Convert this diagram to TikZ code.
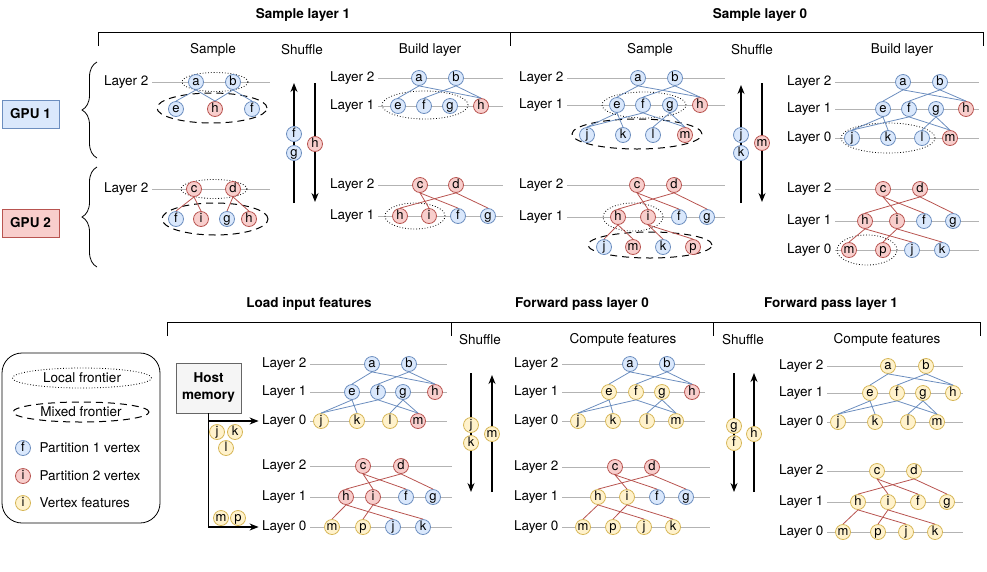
\documentclass[tikz,border=0pt]{standalone}
\usepackage{fontspec}
\setmainfont{TeX Gyre Heros}
\usepackage{tikz}
\usetikzlibrary{arrows.meta,shapes.geometric,decorations.pathreplacing}

\definecolor{bfill}{HTML}{DAE8FC}
\definecolor{bline}{HTML}{6C8EBF}
\definecolor{rfill}{HTML}{F8CECC}
\definecolor{rline}{HTML}{B85450}
\definecolor{yfill}{HTML}{FFF2CC}
\definecolor{yline}{HTML}{D6B656}
\definecolor{hfill}{HTML}{F5F5F5}
\definecolor{hline}{HTML}{666666}
\definecolor{lgray}{HTML}{B3B3B3}

\begin{document}
\begin{tikzpicture}[x=1pt,y=-1pt,
        every node/.style={font=\fontsize{13.5}{15}\selectfont},
        main node/.style={circle,draw,inner sep=-1pt,minimum size=15pt,text height=8.5pt,text depth=2pt,line width=0.8pt,font=\fontsize{13}{14}\selectfont},
        blue node/.style={main node,fill=bfill,draw=bline},
        red node/.style={main node,fill=rfill,draw=rline},
        yellow node/.style={main node,fill=yfill,draw=yline},
        layer label/.style={anchor=east},
        layer line/.style={draw=lgray,line width=1pt},
        blue edges/.style={every edge/.style={draw=bline,line width=0.8pt}},
        red edges/.style={every edge/.style={draw=rline,line width=0.8pt}},
        local frontier/.style={draw=black,dotted,line width=0.8pt},
        mixed frontier/.style={draw=black,dash pattern=on 7pt off 5pt,line width=1pt},
        shuffle/.style={-{Stealth[length=9pt,width=7pt]},line width=1.2pt},
        title/.style={font=\bfseries\fontsize{13.5}{15}\selectfont}]

    \useasboundingbox (0,0) rectangle (987,571);

    % headers, sampling
    \node[title] (sl1) at (303,15) {Sample layer 1};
    \node[title] (sl0) at (760,15) {Sample layer 0};
    \draw[line width=0.8pt] (98,46) -- (98,32) -- (983,32) -- (983,46) (510,32) -- (510,46);
    \node (sub1) at (213,50) {Sample};
    \node (sub2) at (302,50) {Shuffle};
    \node (sub3) at (430,50) {Build layer};
    \node (sub4) at (650,50) {Sample};
    \node (sub5) at (752,50) {Shuffle};
    \node (sub6) at (902,50) {Build layer};

    % gpus
    \node[title,draw=bline,fill=bfill,minimum width=57pt,minimum height=28pt,line width=0.8pt] (gpu1) at (30.5,114) {GPU 1};
    \node[title,draw=rline,fill=rfill,minimum width=57pt,minimum height=28pt,line width=0.8pt] (gpu2) at (30.5,223) {GPU 2};
    \draw[decorate,decoration={brace,amplitude=15pt},line width=0.8pt] (97,158) -- (97,62);
    \draw[decorate,decoration={brace,amplitude=15pt},line width=0.8pt] (97,267) -- (97,167);

    % sample layer 1, sample
    \node[layer label] (A2) at (152,82) {Layer 2};
    \draw[layer line] (A2.east) -- ++(118,0);
    \draw[local frontier] (215,82) ellipse [x radius=33pt, y radius=9.5pt];
    \draw[mixed frontier] (212,108) ellipse [x radius=55pt, y radius=15pt];
    \node[blue node] (A-a) at (196,82) {a};
    \node[blue node] (A-b) at (233,82) {b};
    \node[blue node] (A-e) at (176,109) {e};
    \node[red node] (A-h) at (215,109) {h};
    \node[blue node] (A-f) at (252,109) {f};
    \path[blue edges] (A-a.south) edge (A-e.north) (A-a.south) edge (A-h.north)
        (A-b.south) edge (A-h.north) (A-b.south) edge (A-f.north);

    \node[layer label] (B2) at (152,189) {Layer 2};
    \draw[layer line] (B2.east) -- ++(118,0);
    \draw[local frontier] (214,189) ellipse [x radius=33pt, y radius=9.5pt];
    \draw[mixed frontier] (215,219) ellipse [x radius=53pt, y radius=16pt];
    \node[red node] (B-c) at (194,189) {c};
    \node[red node] (B-d) at (233,189) {d};
    \node[blue node] (B-f) at (176,219) {f};
    \node[red node] (B-i) at (201,219) {i};
    \node[blue node] (B-g) at (227,219) {g};
    \node[red node] (B-h) at (249,219) {h};
    \path[red edges] (B-c.south) edge (B-f.north) (B-c.south) edge (B-i.north)
        (B-d.south) edge (B-g.north) (B-d.south) edge (B-h.north);

    % shuffle
    \coordinate (s1a) at (294,203); \coordinate (s1b) at (294,83);
    \coordinate (s1c) at (315,83); \coordinate (s1d) at (315,202);
    \draw[shuffle] (s1a) -- (s1b);
    \draw[shuffle] (s1c) -- (s1d);
    \node[blue node] (S1-f) at (294,134) {f};
    \node[blue node] (S1-g) at (294,153) {g};
    \node[red node] (S1-h) at (315,144) {h};

    % sample layer 1, build layer
    \node[layer label] (C2) at (378,78) {Layer 2};
    \node[layer label] (C1) at (378,106) {Layer 1};
    \draw[layer line] (C2.east) -- ++(125,0);
    \draw[layer line] (C1.east) -- ++(125,0);
    \draw[local frontier] (425,105) ellipse [x radius=43pt, y radius=14pt];
    \node[blue node] (C-a) at (419,78) {a};
    \node[blue node] (C-b) at (456,78) {b};
    \node[blue node] (C-e) at (398,106) {e};
    \node[blue node] (C-f) at (424,106) {f};
    \node[blue node] (C-g) at (450,106) {g};
    \node[red node] (C-h) at (481,106) {h};
    \path[blue edges] (C-a.south) edge (C-e.north) (C-a.south) edge (C-h.north)
        (C-b.south) edge (C-f.north) (C-b.south) edge (C-h.north);

    \node[layer label] (D2) at (378,185) {Layer 2};
    \node[layer label] (D1) at (378,216) {Layer 1};
    \draw[layer line] (D2.east) -- ++(125,0);
    \draw[layer line] (D1.east) -- ++(125,0);
    \draw[local frontier] (415,216) ellipse [x radius=30pt, y radius=13pt];
    \node[red node] (D-c) at (420,185) {c};
    \node[red node] (D-d) at (456,185) {d};
    \node[red node] (D-h) at (400,216) {h};
    \node[red node] (D-i) at (429,216) {i};
    \node[blue node] (D-f) at (458,216) {f};
    \node[blue node] (D-g) at (488,216) {g};
    \path[red edges] (D-c.south) edge (D-i.north) (D-c.south) edge (D-f.north)
        (D-d.south) edge (D-h.north) (D-d.south) edge (D-g.north);

    % sample layer 0, sample
    \node[layer label] (E2) at (567,78) {Layer 2};
    \node[layer label] (E1) at (567,105) {Layer 1};
    \draw[layer line] (E2.east) -- ++(158,0);
    \draw[layer line] (E1.east) -- ++(158,0);
    \draw[local frontier] (644,105) ellipse [x radius=42pt, y radius=13pt];
    \draw[mixed frontier] (637,134) ellipse [x radius=65pt, y radius=15pt];
    \node[blue node] (E-a) at (638,78) {a};
    \node[blue node] (E-b) at (675,78) {b};
    \node[blue node] (E-e) at (617,105) {e};
    \node[blue node] (E-f) at (643,105) {f};
    \node[blue node] (E-g) at (670,105) {g};
    \node[red node] (E-h) at (700,105) {h};
    \node[blue node] (E-j) at (587,135) {j};
    \node[blue node] (E-k) at (623,135) {k};
    \node[blue node] (E-l) at (653,135) {l};
    \node[red node] (E-m) at (685,135) {m};
    \path[blue edges] (E-a.south) edge (E-e.north) (E-a.south) edge (E-h.north)
        (E-b.south) edge (E-f.north) (E-b.south) edge (E-h.north)
        (E-e.south) edge (E-j.north) (E-e.south) edge (E-k.north)
        (E-f.south) edge (E-j.north) (E-f.south) edge (E-m.north)
        (E-g.south) edge (E-l.north) (E-g.south) edge (E-m.north);

    \node[layer label] (F2) at (567,185) {Layer 2};
    \node[layer label] (F1) at (567,217) {Layer 1};
    \draw[layer line] (F2.east) -- ++(158,0);
    \draw[layer line] (F1.east) -- ++(158,0);
    \draw[local frontier] (633,217) ellipse [x radius=30pt, y radius=14pt];
    \draw[mixed frontier] (650,245) ellipse [x radius=62pt, y radius=13pt];
    \node[red node] (F-c) at (637,185) {c};
    \node[red node] (F-d) at (674,185) {d};
    \node[red node] (F-h) at (618,217) {h};
    \node[red node] (F-i) at (648,217) {i};
    \node[blue node] (F-f) at (679,217) {f};
    \node[blue node] (F-g) at (707,217) {g};
    \node[blue node] (F-j) at (604,247) {j};
    \node[red node] (F-m) at (633,247) {m};
    \node[blue node] (F-k) at (663,247) {k};
    \node[red node] (F-p) at (693,247) {p};
    \path[red edges] (F-c.south) edge (F-i.north) (F-c.south) edge (F-f.north)
        (F-d.south) edge (F-h.north) (F-d.south) edge (F-g.north)
        (F-h.south) edge (F-j.north) (F-h.south) edge (F-m.north)
        (F-i.south) edge (F-k.north) (F-i.south) edge (F-p.north);

    % shuffle
    \coordinate (s2a) at (741,203); \coordinate (s2b) at (741,85);
    \coordinate (s2c) at (762,83); \coordinate (s2d) at (762,202);
    \draw[shuffle] (s2a) -- (s2b);
    \draw[shuffle] (s2c) -- (s2d);
    \node[blue node] (S2-j) at (741,135) {j};
    \node[blue node] (S2-k) at (741,153) {k};
    \node[red node] (S2-m) at (762,143) {m};

    % sample layer 0, build layer
    \node[layer label] (G2) at (835,82) {Layer 2};
    \node[layer label] (G1) at (835,109) {Layer 1};
    \node[layer label] (G0) at (835,138) {Layer 0};
    \draw[layer line] (G2.east) -- ++(144,0);
    \draw[layer line] (G1.east) -- ++(144,0);
    \draw[layer line] (G0.east) -- ++(144,0);
    \draw[local frontier] (888,138) ellipse [x radius=47pt, y radius=15pt];
    \node[blue node] (G-a) at (903,82) {a};
    \node[blue node] (G-b) at (940,82) {b};
    \node[blue node] (G-e) at (883,109) {e};
    \node[blue node] (G-f) at (909,109) {f};
    \node[blue node] (G-g) at (936,109) {g};
    \node[red node] (G-h) at (966,109) {h};
    \node[blue node] (G-j) at (852,138) {j};
    \node[blue node] (G-k) at (888,138) {k};
    \node[blue node] (G-l) at (922,138) {l};
    \node[red node] (G-m) at (950,138) {m};
    \path[blue edges] (G-a.south) edge (G-e.north) (G-a.south) edge (G-h.north)
        (G-b.south) edge (G-f.north) (G-b.south) edge (G-h.north)
        (G-e.south) edge (G-j.north) (G-e.south) edge (G-k.north)
        (G-f.south) edge (G-j.north) (G-f.south) edge (G-m.north)
        (G-g.south) edge (G-l.north) (G-g.south) edge (G-m.north);

    \node[layer label] (H2) at (835,189) {Layer 2};
    \node[layer label] (H1) at (835,221) {Layer 1};
    \node[layer label] (H0) at (835,250) {Layer 0};
    \draw[layer line] (H2.east) -- ++(144,0);
    \draw[layer line] (H1.east) -- ++(144,0);
    \draw[layer line] (H0.east) -- ++(144,0);
    \draw[local frontier] (867,250) ellipse [x radius=30pt, y radius=15pt];
    \node[red node] (H-c) at (883,189) {c};
    \node[red node] (H-d) at (920,189) {d};
    \node[red node] (H-h) at (865,221) {h};
    \node[red node] (H-i) at (897,221) {i};
    \node[blue node] (H-f) at (924,221) {f};
    \node[blue node] (H-g) at (953,221) {g};
    \node[red node] (H-m) at (849,250) {m};
    \node[red node] (H-p) at (883,250) {p};
    \node[blue node] (H-j) at (912,250) {j};
    \node[blue node] (H-k) at (942,250) {k};
    \path[red edges] (H-c.south) edge (H-i.north) (H-c.south) edge (H-f.north)
        (H-d.south) edge (H-h.north) (H-d.south) edge (H-g.north)
        (H-h.south) edge (H-m.north) (H-h.south) edge (H-j.north)
        (H-i.south) edge (H-p.north) (H-i.south) edge (H-k.north);

    % headers, forward pass
    \node[title] (lif) at (309,304) {Load input features};
    \node[title] (fp0) at (582,304) {Forward pass layer 0};
    \node[title] (fp1) at (831,304) {Forward pass layer 1};
    \draw[line width=0.8pt] (167,336) -- (167,322) -- (980,322) -- (980,336)
        (451,322) -- (451,336) (713,322) -- (713,336);
    \node (sub7) at (480,340) {Shuffle};
    \node (sub8) at (623,340) {Compute features};
    \node (sub9) at (743,340) {Shuffle};
    \node (sub10) at (887,340) {Compute features};

    % legend
    \node[draw,rounded corners=20pt,minimum width=158pt,minimum height=170pt,line width=0.8pt] (legend) at (81,438) {};
    \node[local frontier,ellipse,minimum width=139pt,minimum height=20pt,inner sep=0pt] (leg-loc) at (82,378) {Local frontier};
    \node[mixed frontier,ellipse,minimum width=136pt,minimum height=20pt,inner sep=0pt] (leg-mix) at (81,412) {Mixed frontier};
    \node[blue node] (leg-b) at (23,448) {f};
    \node[red node] (leg-r) at (23,476) {i};
    \node[yellow node] (leg-y) at (23,503) {i};
    \node[anchor=west] (leg-bt) at (36,448) {Partition 1 vertex};
    \node[anchor=west] (leg-rt) at (36,476) {Partition 2 vertex};
    \node[anchor=west] (leg-yt) at (36,503) {Vertex features};

    % load input features
    \node[title,draw=hline,fill=hfill,minimum width=65pt,minimum height=50pt,align=center,line width=0.8pt,font=\bfseries\fontsize{13.5}{17}\selectfont] (host) at (208.5,388) {Host\\memory};

    \node[layer label] (I2) at (310,364) {Layer 2};
    \node[layer label] (I1) at (310,392) {Layer 1};
    \node[layer label] (I0) at (310,421) {Layer 0};
    \draw[layer line] (I2.east) -- ++(137,0);
    \draw[layer line] (I1.east) -- ++(137,0);
    \draw[layer line] (I0.east) -- ++(137,0);
    \node[blue node] (I-a) at (372,364) {a};
    \node[blue node] (I-b) at (409,364) {b};
    \node[blue node] (I-e) at (352,392) {e};
    \node[blue node] (I-f) at (378,392) {f};
    \node[blue node] (I-g) at (403,392) {g};
    \node[red node] (I-h) at (435,392) {h};
    \node[yellow node] (I-j) at (321,421) {j};
    \node[yellow node] (I-k) at (357,421) {k};
    \node[yellow node] (I-l) at (390,421) {l};
    \node[red node] (I-m) at (418,421) {m};
    \path[blue edges] (I-a.south) edge (I-e.north) (I-a.south) edge (I-h.north)
        (I-b.south) edge (I-f.north) (I-b.south) edge (I-h.north)
        (I-e.south) edge (I-j.north) (I-e.south) edge (I-k.north)
        (I-f.south) edge (I-j.north) (I-f.south) edge (I-m.north)
        (I-g.south) edge (I-l.north) (I-g.south) edge (I-m.north);

    \node[layer label] (J2) at (310,466) {Layer 2};
    \node[layer label] (J1) at (310,497) {Layer 1};
    \node[layer label] (J0) at (310,527) {Layer 0};
    \draw[layer line] (J2.east) -- ++(142,0);
    \draw[layer line] (J1.east) -- ++(142,0);
    \draw[layer line] (J0.east) -- ++(142,0);
    \node[red node] (J-c) at (363,466) {c};
    \node[red node] (J-d) at (401,466) {d};
    \node[red node] (J-h) at (346,497) {h};
    \node[red node] (J-i) at (373,497) {i};
    \node[blue node] (J-f) at (406,497) {f};
    \node[blue node] (J-g) at (433,497) {g};
    \node[yellow node] (J-m) at (332,527) {m};
    \node[yellow node] (J-p) at (363,527) {p};
    \node[blue node] (J-j) at (393,527) {j};
    \node[blue node] (J-k) at (423,527) {k};
    \path[red edges] (J-c.south) edge (J-i.north) (J-c.south) edge (J-f.north)
        (J-d.south) edge (J-h.north) (J-d.south) edge (J-g.north)
        (J-h.south) edge (J-m.north) (J-h.south) edge (J-j.north)
        (J-i.south) edge (J-p.north) (J-i.south) edge (J-k.north);

    \draw[shuffle] (host.south) |- (I0.west);
    \draw[shuffle] (host.south) |- (J0.west);
    \node[yellow node] (Y-j) at (217,432) {j};
    \node[yellow node] (Y-k) at (235,432) {k};
    \node[yellow node] (Y-l) at (226,448) {l};
    \node[yellow node] (Y-m) at (221,518) {m};
    \node[yellow node] (Y-p) at (238,518) {p};

    % shuffle
    \coordinate (s3a) at (471,373); \coordinate (s3b) at (471,492);
    \coordinate (s3c) at (492,492); \coordinate (s3d) at (492,375);
    \draw[shuffle] (s3a) -- (s3b);
    \draw[shuffle] (s3c) -- (s3d);
    \node[yellow node] (S3-j) at (471,425) {j};
    \node[yellow node] (S3-k) at (471,443) {k};
    \node[yellow node] (S3-m) at (492,434) {m};

    % forward pass layer 0
    \node[layer label] (K2) at (562,364) {Layer 2};
    \node[layer label] (K1) at (562,392) {Layer 1};
    \node[layer label] (K0) at (562,421) {Layer 0};
    \draw[layer line] (K2.east) -- ++(143,0);
    \draw[layer line] (K1.east) -- ++(143,0);
    \draw[layer line] (K0.east) -- ++(143,0);
    \node[blue node] (K-a) at (630,364) {a};
    \node[blue node] (K-b) at (667,364) {b};
    \node[yellow node] (K-e) at (609,392) {e};
    \node[yellow node] (K-f) at (636,392) {f};
    \node[yellow node] (K-g) at (662,392) {g};
    \node[red node] (K-h) at (692,392) {h};
    \node[yellow node] (K-j) at (578,421) {j};
    \node[yellow node] (K-k) at (613,421) {k};
    \node[yellow node] (K-l) at (647,421) {l};
    \node[yellow node] (K-m) at (676,421) {m};
    \path[blue edges] (K-a.south) edge (K-e.north) (K-a.south) edge (K-h.north)
        (K-b.south) edge (K-f.north) (K-b.south) edge (K-h.north)
        (K-e.south) edge (K-j.north) (K-e.south) edge (K-k.north)
        (K-f.south) edge (K-j.north) (K-f.south) edge (K-m.north)
        (K-g.south) edge (K-l.north) (K-g.south) edge (K-m.north);

    \node[layer label] (L2) at (562,467) {Layer 2};
    \node[layer label] (L1) at (562,497) {Layer 1};
    \node[layer label] (L0) at (562,527) {Layer 0};
    \draw[layer line] (L2.east) -- ++(148,0);
    \draw[layer line] (L1.east) -- ++(148,0);
    \draw[layer line] (L0.east) -- ++(148,0);
    \node[red node] (L-c) at (615,467) {c};
    \node[red node] (L-d) at (652,467) {d};
    \node[yellow node] (L-h) at (598,497) {h};
    \node[yellow node] (L-i) at (627,497) {i};
    \node[blue node] (L-f) at (657,497) {f};
    \node[blue node] (L-g) at (686,497) {g};
    \node[yellow node] (L-m) at (583,527) {m};
    \node[yellow node] (L-p) at (613,527) {p};
    \node[yellow node] (L-j) at (644,527) {j};
    \node[yellow node] (L-k) at (673,527) {k};
    \path[red edges] (L-c.south) edge (L-i.north) (L-c.south) edge (L-f.north)
        (L-d.south) edge (L-h.north) (L-d.south) edge (L-g.north)
        (L-h.south) edge (L-m.north) (L-h.south) edge (L-j.north)
        (L-i.south) edge (L-p.north) (L-i.south) edge (L-k.north);

    % shuffle
    \coordinate (s4a) at (734,373); \coordinate (s4b) at (734,492);
    \coordinate (s4c) at (754,492); \coordinate (s4d) at (754,373);
    \draw[shuffle] (s4a) -- (s4b);
    \draw[shuffle] (s4c) -- (s4d);
    \node[yellow node] (S4-g) at (734,426) {g};
    \node[yellow node] (S4-f) at (734,443) {f};
    \node[yellow node] (S4-h) at (754,434) {h};

    % forward pass layer 1
    \node[layer label] (M2) at (827,366) {Layer 2};
    \node[layer label] (M1) at (827,393) {Layer 1};
    \node[layer label] (M0) at (827,422) {Layer 0};
    \draw[layer line] (M2.east) -- ++(136,0);
    \draw[layer line] (M1.east) -- ++(136,0);
    \draw[layer line] (M0.east) -- ++(136,0);
    \node[yellow node] (M-a) at (888,366) {a};
    \node[yellow node] (M-b) at (926,366) {b};
    \node[yellow node] (M-e) at (870,393) {e};
    \node[yellow node] (M-f) at (897,393) {f};
    \node[yellow node] (M-g) at (923,393) {g};
    \node[yellow node] (M-h) at (953,393) {h};
    \node[yellow node] (M-j) at (838,422) {j};
    \node[yellow node] (M-k) at (875,422) {k};
    \node[yellow node] (M-l) at (908,422) {l};
    \node[yellow node] (M-m) at (937,422) {m};
    \path[blue edges] (M-a.south) edge (M-e.north) (M-a.south) edge (M-h.north)
        (M-b.south) edge (M-f.north) (M-b.south) edge (M-h.north)
        (M-e.south) edge (M-j.north) (M-e.south) edge (M-k.north)
        (M-f.south) edge (M-j.north) (M-f.south) edge (M-m.north)
        (M-g.south) edge (M-l.north) (M-g.south) edge (M-m.north);

    \node[layer label] (N2) at (827,471) {Layer 2};
    \node[layer label] (N1) at (827,502) {Layer 1};
    \node[layer label] (N0) at (827,532) {Layer 0};
    \draw[layer line] (N2.east) -- ++(136,0);
    \draw[layer line] (N1.east) -- ++(136,0);
    \draw[layer line] (N0.east) -- ++(136,0);
    \node[yellow node] (N-c) at (877,471) {c};
    \node[yellow node] (N-d) at (914,471) {d};
    \node[yellow node] (N-h) at (858,502) {h};
    \node[yellow node] (N-i) at (888,502) {i};
    \node[yellow node] (N-f) at (918,502) {f};
    \node[yellow node] (N-g) at (947,502) {g};
    \node[yellow node] (N-m) at (843,532) {m};
    \node[yellow node] (N-p) at (878,532) {p};
    \node[yellow node] (N-j) at (906,532) {j};
    \node[yellow node] (N-k) at (935,532) {k};
    \path[red edges] (N-c.south) edge (N-i.north) (N-c.south) edge (N-f.north)
        (N-d.south) edge (N-h.north) (N-d.south) edge (N-g.north)
        (N-h.south) edge (N-m.north) (N-h.south) edge (N-j.north)
        (N-i.south) edge (N-p.north) (N-i.south) edge (N-k.north);

\end{tikzpicture}
\end{document}
